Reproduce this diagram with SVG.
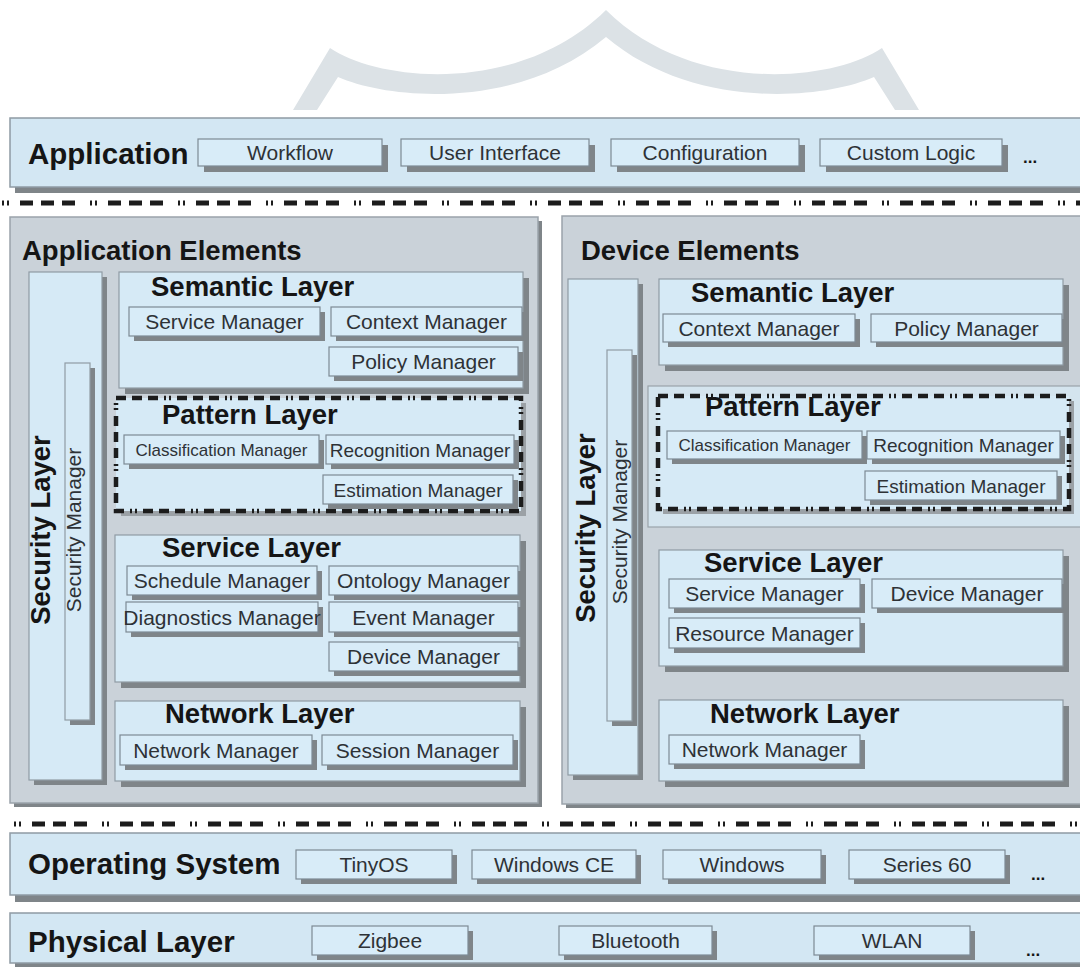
<svg xmlns="http://www.w3.org/2000/svg" width="1080" height="967" viewBox="0 0 1080 967">
  <style>
    .wm { fill: #dce2e6; }
    .bar { fill: #d3e7f3; stroke: #8f9ba4; stroke-width: 1.5; }
    .panel { fill: #cad2d9; stroke: #9aa3aa; stroke-width: 1.5; }
    .layer { fill: #d6eaf6; stroke: #8f9ba4; stroke-width: 1.2; }
    .box { fill: #d8ecf8; stroke: #7d8a94; stroke-width: 1.2; }
    .pbg { fill: #d4e4ee; stroke: #9aa3aa; stroke-width: 1.2; }
    .sh { fill: #7f8589; }
    .shl { fill: #9ba1a6; }
    .dash { fill: #d6eaf6; stroke: #1c1c1c; stroke-width: 4.5; stroke-dasharray: 10 6 10 6 10 6 2 3 2 6; }
    .sep { stroke: #1c1c1c; stroke-width: 5; stroke-dasharray: 2 3 2 11 13 8 13 8 13 15; fill: none; }
    .hb { font-family: "Liberation Sans", Arial, sans-serif; font-weight: bold; fill: #151515; }
    .big { font-size: 29.5px; }
    .hd { font-size: 27.5px; }
    .lb { font-family: "Liberation Sans", Arial, sans-serif; font-size: 21px; fill: #2e3236; text-anchor: middle; }
    .s17 { font-size: 17px; }
    .s19 { font-size: 19px; }
    .rot { text-anchor: middle; }
  </style>

  <!-- crown watermark -->
  <path class="wm" d="M293,110 L330,48 C380,82 520,95 606,10 C692,95 832,82 882,48 L919,110 L895,110 L874,77 C822,100 692,110 606,37 C520,110 390,100 338,77 L317,110 Z"/>

  <!-- top: application bar -->
  <g id="application">
    <rect class="sh" x="15" y="123" width="1075" height="70"/>
    <rect class="bar" x="10" y="118" width="1080" height="69"/>
    <text class="hb big" x="28" y="164">Application</text>
    <g id="app-workflow">
      <rect class="sh" x="204" y="145" width="184" height="27"/>
      <rect class="box" x="198" y="139" width="184" height="27"/>
      <text class="lb" x="290" y="160">Workflow</text>
    </g>
    <g id="app-ui">
      <rect class="sh" x="407" y="145" width="188" height="27"/>
      <rect class="box" x="401" y="139" width="188" height="27"/>
      <text class="lb" x="495" y="160">User Interface</text>
    </g>
    <g id="app-config">
      <rect class="sh" x="617" y="145" width="188" height="27"/>
      <rect class="box" x="611" y="139" width="188" height="27"/>
      <text class="lb" x="705" y="160">Configuration</text>
    </g>
    <g id="app-custom">
      <rect class="sh" x="826" y="145" width="182" height="27"/>
      <rect class="box" x="820" y="139" width="182" height="27"/>
      <text class="lb" x="911" y="160">Custom Logic</text>
    </g>
    <text class="hb" x="1023" y="163" font-size="17">...</text>
  </g>

  <!-- separators -->
  <g id="connectors">
    <line class="sep" x1="2" y1="203" x2="1080" y2="203"/>
    <line class="sep" x1="14" y1="824" x2="1080" y2="824"/>
  </g>

  <!-- application elements -->
  <g id="application-elements">
    <rect class="sh" x="14" y="221" width="528" height="586"/>
    <rect class="panel" x="10" y="217" width="528" height="586"/>
    <text class="hb hd" x="22" y="260">Application Elements</text>

    <g id="ae-security">
      <rect class="sh" x="34" y="277" width="73" height="508"/>
      <rect class="layer" x="29" y="272" width="73" height="508"/>
      <text class="hb hd rot" transform="translate(50,530) rotate(-90)">Security Layer</text>
      <rect class="sh" x="70" y="368" width="25" height="357"/>
      <rect class="layer" x="65" y="363" width="25" height="357"/>
      <text class="lb" transform="translate(81,530) rotate(-90)">Security Manager</text>
    </g>

    <g id="ae-semantic">
      <rect class="sh" x="125" y="278" width="404" height="116"/>
      <rect class="layer" x="119" y="272" width="404" height="116"/>
      <text class="hb hd" x="151" y="296">Semantic Layer</text>
      <rect class="sh" x="134" y="312" width="191" height="29"/>
      <rect class="box" x="129" y="307" width="191" height="29"/>
      <text class="lb" x="224.5" y="329">Service Manager</text>
      <rect class="sh" x="336" y="312" width="191" height="29"/>
      <rect class="box" x="331" y="307" width="191" height="29"/>
      <text class="lb" x="426.5" y="329">Context Manager</text>
      <rect class="sh" x="334" y="352" width="189" height="29"/>
      <rect class="box" x="329" y="347" width="189" height="29"/>
      <text class="lb" x="423.5" y="369">Policy Manager</text>
    </g>

    <g id="ae-pattern">
      <rect class="shl" x="121" y="403" width="405" height="113"/>
      <rect class="dash" x="116" y="398" width="405" height="113"/>
      <text class="hb hd" x="162" y="424">Pattern Layer</text>
      <rect class="sh" x="129" y="440" width="195" height="29"/>
      <rect class="box" x="124" y="435" width="195" height="29"/>
      <text class="lb s17" x="221.5" y="455.5">Classification Manager</text>
      <rect class="sh" x="331" y="440" width="188" height="29"/>
      <rect class="box" x="326" y="435" width="188" height="29"/>
      <text class="lb s19" x="420" y="456.5">Recognition Manager</text>
      <rect class="sh" x="328" y="480" width="190" height="29"/>
      <rect class="box" x="323" y="475" width="190" height="29"/>
      <text class="lb s19" x="418" y="496.5">Estimation Manager</text>
    </g>

    <g id="ae-service">
      <rect class="sh" x="121" y="541" width="405" height="147"/>
      <rect class="layer" x="115" y="535" width="405" height="147"/>
      <text class="hb hd" x="162" y="557">Service Layer</text>
      <rect class="sh" x="132" y="571" width="190" height="29"/>
      <rect class="box" x="127" y="566" width="190" height="29"/>
      <text class="lb" x="222" y="588">Schedule Manager</text>
      <rect class="sh" x="334" y="571" width="189" height="29"/>
      <rect class="box" x="329" y="566" width="189" height="29"/>
      <text class="lb" x="423.5" y="588">Ontology Manager</text>
      <rect class="sh" x="131" y="607" width="192" height="30"/>
      <rect class="box" x="126" y="602" width="192" height="30"/>
      <text class="lb" x="222" y="624.5">Diagnostics Manager</text>
      <rect class="sh" x="334" y="607" width="189" height="30"/>
      <rect class="box" x="329" y="602" width="189" height="30"/>
      <text class="lb" x="423.5" y="624.5">Event Manager</text>
      <rect class="sh" x="334" y="647" width="189" height="29"/>
      <rect class="box" x="329" y="642" width="189" height="29"/>
      <text class="lb" x="423.5" y="664">Device Manager</text>
    </g>

    <g id="ae-network">
      <rect class="sh" x="121" y="707" width="405" height="80"/>
      <rect class="layer" x="115" y="701" width="405" height="80"/>
      <text class="hb hd" x="165" y="723">Network Layer</text>
      <rect class="sh" x="125" y="740" width="192" height="30"/>
      <rect class="box" x="120" y="735" width="192" height="30"/>
      <text class="lb" x="216" y="757.5">Network Manager</text>
      <rect class="sh" x="327" y="740" width="191" height="30"/>
      <rect class="box" x="322" y="735" width="191" height="30"/>
      <text class="lb" x="417.5" y="757.5">Session Manager</text>
    </g>
  </g>

  <!-- device elements -->
  <g id="device-elements">
    <rect class="sh" x="566" y="220" width="530" height="588"/>
    <rect class="panel" x="562" y="216" width="530" height="588"/>
    <text class="hb hd" x="581" y="260">Device Elements</text>

    <g id="de-security">
      <rect class="sh" x="573" y="284" width="70" height="496"/>
      <rect class="layer" x="568" y="279" width="70" height="496"/>
      <text class="hb hd rot" transform="translate(595,528) rotate(-90)">Security Layer</text>
      <rect class="sh" x="612" y="355" width="25" height="371"/>
      <rect class="layer" x="607" y="350" width="25" height="371"/>
      <text class="lb" transform="translate(627,522) rotate(-90)">Security Manager</text>
    </g>

    <g id="de-semantic">
      <rect class="sh" x="665" y="285" width="404" height="86"/>
      <rect class="layer" x="659" y="279" width="404" height="86"/>
      <text class="hb hd" x="691" y="302">Semantic Layer</text>
      <rect class="sh" x="668" y="319" width="192" height="28"/>
      <rect class="box" x="663" y="314" width="192" height="28"/>
      <text class="lb" x="759" y="335.5">Context Manager</text>
      <rect class="sh" x="876" y="319" width="191" height="28"/>
      <rect class="box" x="871" y="314" width="191" height="28"/>
      <text class="lb" x="966.5" y="335.5">Policy Manager</text>
    </g>

    <g id="de-pattern">
      <rect class="pbg" x="648" y="386" width="440" height="141"/>
      <rect class="shl" x="663" y="401" width="411" height="113"/>
      <rect class="dash" x="658" y="396" width="411" height="113"/>
      <text class="hb hd" x="705" y="416">Pattern Layer</text>
      <rect class="sh" x="672" y="436" width="195" height="28"/>
      <rect class="box" x="667" y="431" width="195" height="28"/>
      <text class="lb s17" x="764.5" y="451">Classification Manager</text>
      <rect class="sh" x="872" y="436" width="193" height="28"/>
      <rect class="box" x="867" y="431" width="193" height="28"/>
      <text class="lb s19" x="963.5" y="452">Recognition Manager</text>
      <rect class="sh" x="870" y="476" width="192" height="29"/>
      <rect class="box" x="865" y="471" width="192" height="29"/>
      <text class="lb s19" x="961" y="492.5">Estimation Manager</text>
    </g>

    <g id="de-service">
      <rect class="sh" x="665" y="556" width="404" height="116"/>
      <rect class="layer" x="659" y="550" width="404" height="116"/>
      <text class="hb hd" x="704" y="572">Service Layer</text>
      <rect class="sh" x="674" y="584" width="191" height="29"/>
      <rect class="box" x="669" y="579" width="191" height="29"/>
      <text class="lb" x="764.5" y="601">Service Manager</text>
      <rect class="sh" x="877" y="584" width="190" height="29"/>
      <rect class="box" x="872" y="579" width="190" height="29"/>
      <text class="lb" x="967" y="601">Device Manager</text>
      <rect class="sh" x="674" y="623" width="191" height="30"/>
      <rect class="box" x="669" y="618" width="191" height="30"/>
      <text class="lb" x="764.5" y="640.5">Resource Manager</text>
    </g>

    <g id="de-network">
      <rect class="sh" x="665" y="706" width="404" height="81"/>
      <rect class="layer" x="659" y="700" width="404" height="81"/>
      <text class="hb hd" x="710" y="723">Network Layer</text>
      <rect class="sh" x="674" y="740" width="191" height="29"/>
      <rect class="box" x="669" y="735" width="191" height="29"/>
      <text class="lb" x="764.5" y="757">Network Manager</text>
    </g>
  </g>

  <!-- operating system bar -->
  <g id="operating-system">
    <rect class="sh" x="15" y="840" width="1075" height="62"/>
    <rect class="bar" x="10" y="833" width="1080" height="62"/>
    <text class="hb big" x="28" y="874">Operating System</text>
    <g id="os-tinyos">
      <rect class="sh" x="301" y="855" width="156" height="29"/>
      <rect class="box" x="296" y="850" width="156" height="29"/>
      <text class="lb" x="374" y="872">TinyOS</text>
    </g>
    <g id="os-wince">
      <rect class="sh" x="477" y="855" width="164" height="29"/>
      <rect class="box" x="472" y="850" width="164" height="29"/>
      <text class="lb" x="554" y="872">Windows CE</text>
    </g>
    <g id="os-windows">
      <rect class="sh" x="668" y="855" width="158" height="29"/>
      <rect class="box" x="663" y="850" width="158" height="29"/>
      <text class="lb" x="742" y="872">Windows</text>
    </g>
    <g id="os-series60">
      <rect class="sh" x="854" y="855" width="156" height="29"/>
      <rect class="box" x="849" y="850" width="156" height="29"/>
      <text class="lb" x="927" y="872">Series 60</text>
    </g>
    <text class="hb" x="1031" y="880" font-size="17">...</text>
  </g>

  <!-- physical layer bar -->
  <g id="physical-layer">
    <rect class="sh" x="15" y="918" width="1075" height="50"/>
    <rect class="bar" x="10" y="913" width="1080" height="50"/>
    <text class="hb big" x="28" y="952">Physical Layer</text>
    <g id="phy-zigbee">
      <rect class="sh" x="317" y="931" width="156" height="29"/>
      <rect class="box" x="312" y="926" width="156" height="29"/>
      <text class="lb" x="390" y="948">Zigbee</text>
    </g>
    <g id="phy-bluetooth">
      <rect class="sh" x="564" y="931" width="153" height="29"/>
      <rect class="box" x="559" y="926" width="153" height="29"/>
      <text class="lb" x="635.5" y="948">Bluetooth</text>
    </g>
    <g id="phy-wlan">
      <rect class="sh" x="819" y="931" width="156" height="29"/>
      <rect class="box" x="814" y="926" width="156" height="29"/>
      <text class="lb" x="892" y="948">WLAN</text>
    </g>
    <text class="hb" x="1026" y="956" font-size="17">...</text>
  </g>
</svg>
